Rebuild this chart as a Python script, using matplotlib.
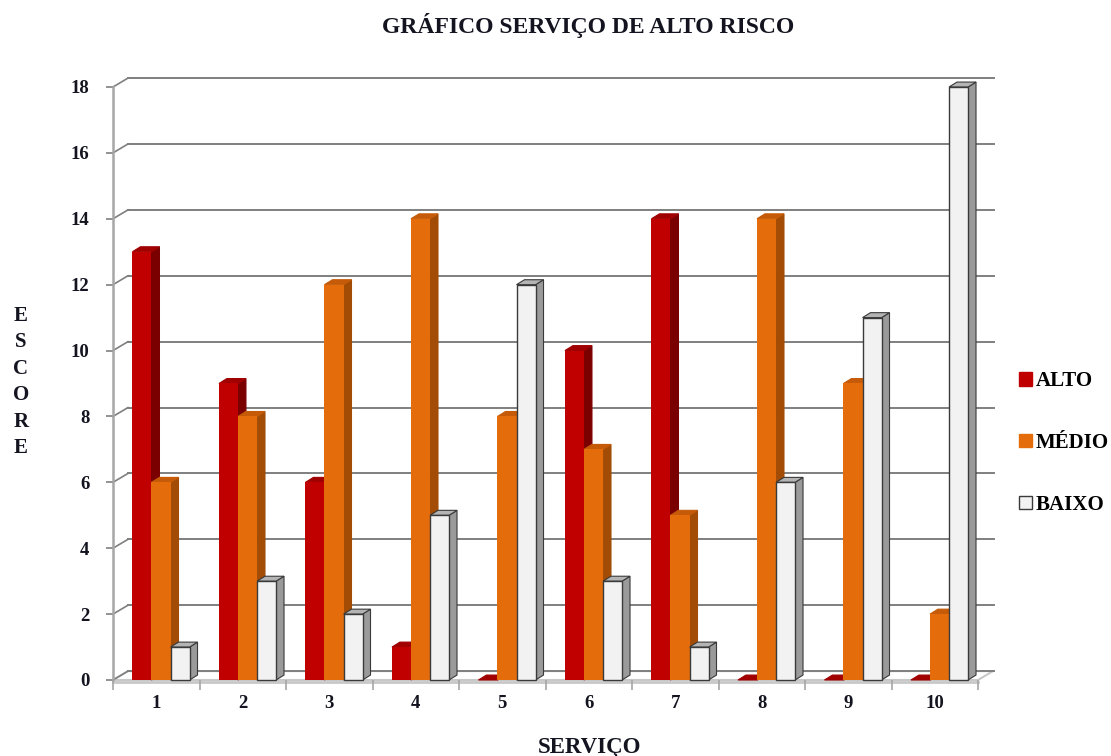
import matplotlib.pyplot as plt
from matplotlib.patches import Polygon, Patch

# escores por serviço
servicos = ["1", "2", "3", "4", "5", "6", "7", "8", "9", "10"]
alto = [13, 9, 6, 1, 0, 10, 14, 0, 0, 0]
medio = [6, 8, 12, 14, 8, 7, 5, 14, 9, 2]
baixo = [1, 3, 2, 5, 12, 3, 1, 6, 11, 18]
yticks = [0, 2, 4, 6, 8, 10, 12, 14, 16, 18]

plt.rcParams['font.family'] = ['Liberation Serif', 'DejaVu Serif']
plt.rcParams['font.weight'] = 'bold'

W, H = 1111, 756
TXT = '#141420'
fig = plt.figure(figsize=(W / 100, H / 100), dpi=100)
# área de plotagem (frente do "cubo" 3D)
ax = fig.add_axes([113 / W, 1 - 680 / H, (978 - 113) / W, (680 - 87) / H])
ax.set_xlim(-0.5, 9.5)
ax.set_ylim(0, 18)

# deslocamentos de profundidade (unidades de dados)
WALL_DX, WALL_DY = 0.173, 0.27
BAR_DX, BAR_DY = 0.092, 0.15
BW = 0.22
GRID = '#7f7f7f'

# chão
floor = Polygon([(-0.5, 0), (9.5, 0), (9.5 + WALL_DX, WALL_DY), (-0.5 + WALL_DX, WALL_DY)],
                closed=True, facecolor='white', edgecolor='#c8c8c8', lw=1.5,
                zorder=1, clip_on=False)
ax.add_patch(floor)
ax.plot([-0.5, 9.5], [-0.07, -0.07], color='#c8c8c8', lw=2, clip_on=False, zorder=1)

# linhas de grade na parede do fundo + diagonais até o eixo
for t in yticks:
    ax.plot([-0.5 + WALL_DX, 9.5 + WALL_DX * 1.1], [t + WALL_DY, t + WALL_DY],
            color=GRID, lw=1.4, clip_on=False, zorder=1)
    ax.plot([-0.5, -0.5 + WALL_DX], [t, t + WALL_DY], color=GRID, lw=1.2,
            clip_on=False, zorder=1)

series = [
    (alto, -0.165, '#C00000', '#7a0000', '#a00000', 'none'),
    (medio, 0.055, '#E46C0A', '#a24c06', '#c55b08', 'none'),
    (baixo, 0.275, '#F2F2F2', '#9a9a9a', '#b4b4b4', '#3a3a3a'),
]

z = 3
for i in range(len(servicos)):
    for vals, off, cf, cs, ct, ec in series:
        v = vals[i]
        x0 = i + off - BW / 2
        x1 = x0 + BW
        # face lateral
        side = Polygon([(x1, 0), (x1 + BAR_DX, BAR_DY), (x1 + BAR_DX, v + BAR_DY), (x1, v)],
                       closed=True, facecolor=cs, edgecolor=ec if ec != 'none' else cs,
                       lw=0.8, zorder=z, clip_on=False)
        ax.add_patch(side)
        # topo
        top = Polygon([(x0, v), (x1, v), (x1 + BAR_DX, v + BAR_DY), (x0 + BAR_DX, v + BAR_DY)],
                      closed=True, facecolor=ct, edgecolor=ec if ec != 'none' else ct,
                      lw=0.8, zorder=z, clip_on=False)
        ax.add_patch(top)
        # frente
        ax.bar(i + off, v, width=BW, color=cf,
               edgecolor=ec if ec != 'none' else cf, lw=1.0 if ec != 'none' else 0,
               zorder=z + 0.5, clip_on=False)
        z += 1

# eixos
for s in ['top', 'right', 'bottom']:
    ax.spines[s].set_visible(False)
ax.spines['left'].set_color('#a6a6a6')
ax.spines['left'].set_linewidth(1.8)
ax.set_yticks(yticks)
ax.set_yticklabels([str(t) for t in yticks], fontsize=13.5, fontweight='bold')
ax.tick_params(axis='y', length=5, width=1.2, color=GRID, pad=12)
ax.set_xticks(range(len(servicos)))
ax.set_xticklabels(servicos, fontsize=13.5, fontweight='bold')
ax.set_xticks([k - 0.5 for k in range(len(servicos) + 1)], minor=True)
ax.tick_params(axis='x', which='major', length=0, pad=11)
ax.tick_params(axis='x', which='minor', length=7, width=1.2, color='#a6a6a6')
for lab in ax.get_yticklabels() + ax.get_xticklabels():
    lab.set_color(TXT)

# títulos
fig.text(588 / W, 1 - 25 / H, 'GRÁFICO SERVIÇO DE ALTO RISCO', ha='center', va='center',
         fontsize=17, fontweight='bold', color=TXT)
fig.text(590 / W, 1 - 737 / H, 'SERVIÇO', ha='center', va='top',
         fontsize=16.5, fontweight='bold', color=TXT)
for k, letra in enumerate('ESCORE'):
    fig.text(21 / W, 1 - (316 + k * 26.4) / H, letra, ha='center', va='center',
             fontsize=15, fontweight='bold', color=TXT)

# legenda
handles = [Patch(facecolor='#C00000', edgecolor='#C00000', label='ALTO'),
           Patch(facecolor='#E46C0A', edgecolor='#E46C0A', label='MÉDIO'),
           Patch(facecolor='#F2F2F2', edgecolor='#3a3a3a', label='BAIXO')]
fig.legend(handles=handles, loc='center left', bbox_to_anchor=(1011 / W, 1 - 443 / H),
           frameon=False, handlelength=0.6, handleheight=0.6, handletextpad=0.2,
           labelspacing=2.0, prop={'size': 15, 'weight': 'bold'}, borderaxespad=0)

fig.savefig('out.png', dpi=100)
